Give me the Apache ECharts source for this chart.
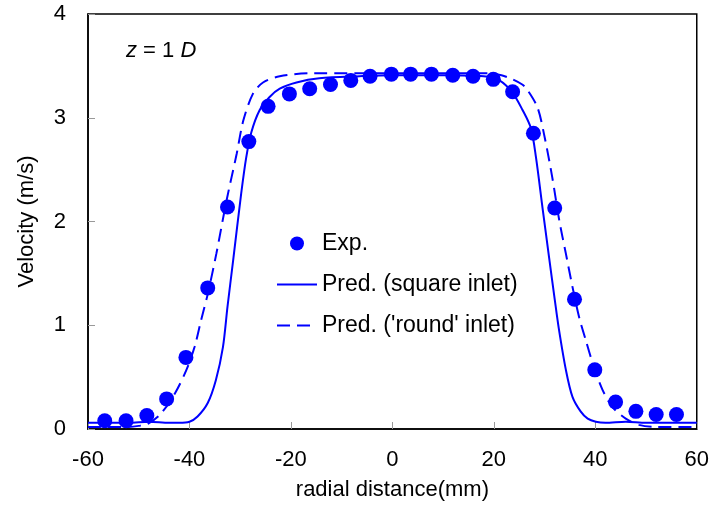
<!DOCTYPE html>
<html>
<head>
<meta charset="utf-8">
<script src="https://cdn.jsdelivr.net/npm/echarts@6/dist/echarts.min.js"></script>
<style>html,body{margin:0;padding:0;background:#fff}#c{width:712px;height:506px}</style>
</head>
<body>
<div id="c"></div>
<script>
// Experimental data: [radial distance (mm), velocity (m/s)]
var expData = [[-56.7,0.08],[-52.5,0.08],[-48.4,0.13],[-44.5,0.29],[-40.7,0.69],[-36.4,1.36],[-32.5,2.14],[-28.3,2.77],[-24.5,3.11],[-20.3,3.23],[-16.3,3.28],[-12.2,3.32],[-8.2,3.36],[-4.4,3.40],[-0.2,3.42],[3.6,3.42],[7.7,3.42],[11.9,3.41],[15.9,3.40],[19.9,3.37],[23.7,3.25],[27.8,2.85],[32.0,2.13],[35.9,1.25],[39.9,0.57],[44.0,0.26],[48.0,0.17],[52.0,0.14],[56.0,0.14]];
// Prediction, square inlet (solid)
var predSquare = [[-60,0.06],[-52,0.06],[-48,0.07],[-44,0.06],[-42,0.06],[-40,0.07],[-38.4,0.12],[-36.4,0.25],[-34.8,0.47],[-33.4,0.79],[-32.5,1.18],[-31.4,1.62],[-29.8,2.27],[-28.8,2.62],[-27.8,2.86],[-26.2,3.07],[-24.2,3.20],[-22.2,3.28],[-18.9,3.34],[-14.4,3.38],[-6.5,3.40],[0,3.41],[10,3.41],[18,3.40],[21.1,3.36],[23.7,3.24],[25.6,3.08],[27.3,2.90],[28.3,2.62],[29.6,2.13],[30.9,1.65],[32.0,1.25],[32.8,0.97],[34.2,0.57],[35.5,0.31],[37.1,0.17],[38.5,0.10],[40.1,0.07],[42,0.06],[46,0.07],[50,0.06],[60,0.06]];
// Prediction, 'round' inlet (dashed)
var predRound = [[-60,0.02],[-52,0.02],[-50,0.03],[-48.2,0.05],[-45.6,0.15],[-42.9,0.34],[-40.6,0.57],[-39.0,0.79],[-37.7,1.05],[-36.4,1.30],[-34.7,1.69],[-32.7,2.20],[-30.7,2.65],[-29.4,2.97],[-27.5,3.23],[-25.5,3.34],[-22.2,3.40],[-15.7,3.43],[0,3.43],[19.1,3.43],[21.5,3.41],[23.7,3.37],[25.6,3.32],[26.6,3.27],[28.6,3.10],[29.9,2.84],[31.5,2.43],[32.9,2.01],[34.2,1.69],[35.5,1.37],[36.8,1.08],[38.1,0.86],[39.7,0.60],[41.4,0.38],[43.4,0.21],[46.0,0.10],[48.6,0.04],[51.9,0.02],[60,0.02]];
var seriesNames = ['Exp.', 'Pred. (square inlet)', "Pred. ('round' inlet)"];
var xTitle = 'radial distance(mm)';
var yTitle = 'Velocity (m/s)';

var FONT = 'Liberation Sans, Arial, sans-serif';
var BLUE = '#0000ff';
var hiddenSymbol = { color: 'rgba(0,0,0,0)', borderColor: 'rgba(0,0,0,0)', borderWidth: 0, opacity: 0 };
var chart = echarts.init(document.getElementById('c'));
chart.setOption({
  animation: false,
  backgroundColor: '#fff',
  title: {
    text: '{i|z} = 1 {i|D}',
    left: 121, top: 35,
    textStyle: {
      fontFamily: FONT, fontSize: 22, fontWeight: 'normal', color: '#000',
      rich: { i: { fontFamily: FONT, fontSize: 22, fontStyle: 'italic', color: '#000' } }
    }
  },
  grid: {
    left: 88, right: 14, top: 14, bottom: 77,
    show: true, borderColor: '#000', borderWidth: 1.5, backgroundColor: 'transparent'
  },
  legend: {
    data: [
      { name: seriesNames[0] },
      { name: seriesNames[1], itemStyle: hiddenSymbol },
      { name: seriesNames[2], itemStyle: hiddenSymbol }
    ],
    orient: 'vertical',
    left: 271, top: 227,
    itemWidth: 40, itemHeight: 14, itemGap: 18,
    textStyle: { fontFamily: FONT, fontSize: 23, color: '#000', lineHeight: 23 }
  },
  xAxis: {
    type: 'value', min: -60, max: 60, interval: 20,
    name: xTitle, nameLocation: 'middle', nameGap: 50,
    nameTextStyle: { fontFamily: FONT, fontSize: 22, color: '#000' },
    axisLine: { show: true, onZero: false, lineStyle: { color: '#000', width: 1.5 } },
    axisTick: { show: true, inside: true, length: 7, lineStyle: { color: '#999', width: 1 } },
    axisLabel: { fontFamily: FONT, fontSize: 22, color: '#000', margin: 20 },
    splitLine: { show: false }
  },
  yAxis: {
    type: 'value', min: 0, max: 4, interval: 1,
    name: yTitle, nameLocation: 'middle', nameGap: 50, nameRotate: 90,
    nameTextStyle: { fontFamily: FONT, fontSize: 22, color: '#000' },
    axisLine: { show: true, onZero: false, lineStyle: { color: '#000', width: 1.5 } },
    axisTick: { show: true, inside: true, length: 7, lineStyle: { color: '#999', width: 1 } },
    axisLabel: { fontFamily: FONT, fontSize: 22, color: '#000', margin: 22 },
    splitLine: { show: false }
  },
  series: [
    {
      name: seriesNames[0], type: 'scatter', data: expData, z: 5,
      symbol: 'circle', symbolSize: 15,
      itemStyle: { color: BLUE, opacity: 1 }
    },
    {
      name: seriesNames[1], type: 'line', data: predSquare, z: 3,
      showSymbol: false, symbol: 'none', smooth: 0.3,
      lineStyle: { color: BLUE, width: 2 }, itemStyle: { color: BLUE }
    },
    {
      name: seriesNames[2], type: 'line', data: predRound, z: 3,
      showSymbol: false, symbol: 'none', smooth: 0.3,
      lineStyle: { color: BLUE, width: 2, type: [13, 7] }, itemStyle: { color: BLUE }
    }
  ]
});
</script>
</body>
</html>
